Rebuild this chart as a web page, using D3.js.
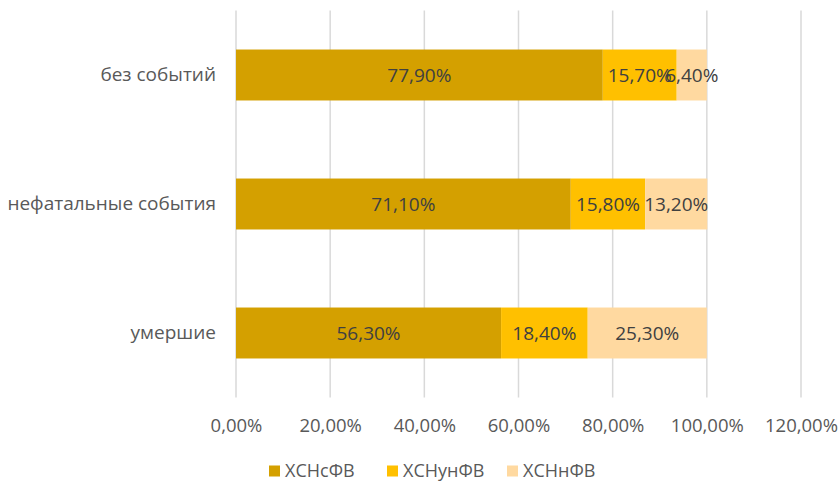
<!DOCTYPE html>
<html>
<head>
<meta charset="utf-8">
<script src="https://cdn.jsdelivr.net/npm/d3@7"></script>
<style>
  body { margin: 0; background: #ffffff; }
  text { font-family: "Open Sans", sans-serif; }
</style>
</head>
<body>
<svg id="chart"></svg>
<script>
// Chart data
const categories = ["без событий", "нефатальные события", "умершие"];
const series_names = ["ХСНсФВ", "ХСНунФВ", "ХСНнФВ"];
const series_colors = ["#d4a000", "#ffc000", "#ffd9a0"];
const values_scfv = [77.9, 71.1, 56.3];
const values_unfv = [15.7, 15.8, 18.4];
const values_nfv = [6.4, 13.2, 25.3];
const x_ticks = [0, 20, 40, 60, 80, 100, 120];

// Dimensions
const width = 839, height = 481;
const plot = { left: 236, right: 801, top: 10.5, bottom: 397.5 };

const svg = d3.select("#chart")
    .attr("width", width)
    .attr("height", height);

// Scales
const x_scale = d3.scaleLinear()
    .domain([0, 120])
    .range([plot.left, plot.right]);
const y_scale = d3.scaleBand()
    .domain(categories)
    .range([plot.top, plot.bottom])
    .paddingInner(0.605)
    .paddingOuter(0.3025);

const fmt = v => v.toFixed(2).replace(".", ",") + "%";

// Gridlines
svg.append("g")
    .selectAll("line")
    .data(x_ticks)
    .enter()
    .append("line")
    .attr("x1", d => x_scale(d))
    .attr("x2", d => x_scale(d))
    .attr("y1", plot.top)
    .attr("y2", plot.bottom)
    .attr("stroke", "#d9d9d9")
    .attr("stroke-width", 1.5);

// X axis labels
const x_axis = d3.axisBottom(x_scale)
    .tickValues(x_ticks)
    .tickSize(0)
    .tickFormat(fmt);
const x_axis_group = svg.append("g")
    .attr("transform", `translate(0, ${plot.bottom + 18})`)
    .call(x_axis);
x_axis_group.select(".domain").remove();
x_axis_group.selectAll("text")
    .attr("fill", "#595959")
    .style("font-size", "18.5px");

// Y axis labels
const y_axis = d3.axisLeft(y_scale).tickSize(0).tickPadding(20);
const y_axis_group = svg.append("g")
    .attr("transform", `translate(${plot.left}, 0)`)
    .call(y_axis);
y_axis_group.select(".domain").remove();
y_axis_group.selectAll("text")
    .attr("fill", "#595959")
    .style("font-size", "19px");

// Stacked data
const rows = categories.map((c, i) => ({
    category: c,
    [series_names[0]]: values_scfv[i],
    [series_names[1]]: values_unfv[i],
    [series_names[2]]: values_nfv[i]
}));
const stacked = d3.stack().keys(series_names)(rows);

const layers = svg.selectAll(".layer")
    .data(stacked)
    .enter()
    .append("g")
    .attr("class", "layer")
    .attr("fill", (d, i) => series_colors[i]);

layers.selectAll("rect")
    .data(d => d)
    .enter()
    .append("rect")
    .attr("x", d => x_scale(d[0]))
    .attr("y", d => y_scale(d.data.category))
    .attr("width", d => x_scale(d[1]) - x_scale(d[0]))
    .attr("height", y_scale.bandwidth());

// Data labels (centred in each segment, as in the source the small ones overlap)
layers.selectAll("text")
    .data(d => d.map(p => ({ p: p, key: d.key })))
    .enter()
    .append("text")
    .attr("x", d => x_scale((d.p[0] + d.p[1]) / 2))
    .attr("y", d => y_scale(d.p.data.category) + y_scale.bandwidth() / 2)
    .attr("dy", "0.35em")
    .attr("text-anchor", "middle")
    .attr("fill", "#404040")
    .style("font-size", "19px")
    .text(d => fmt(d.p.data[d.key]));

// Legend
const legend_x = [269, 387, 507];
const legend = svg.selectAll(".legend")
    .data(series_names)
    .enter()
    .append("g")
    .attr("class", "legend")
    .attr("transform", (d, i) => `translate(${legend_x[i]}, 471)`);
legend.append("rect")
    .attr("x", 0)
    .attr("y", -5.5)
    .attr("width", 11)
    .attr("height", 11)
    .attr("fill", (d, i) => series_colors[i]);
legend.append("text")
    .attr("x", 16)
    .attr("dy", "0.35em")
    .attr("fill", "#595959")
    .style("font-size", "18px")
    .text(d => d);
</script>
</body>
</html>
